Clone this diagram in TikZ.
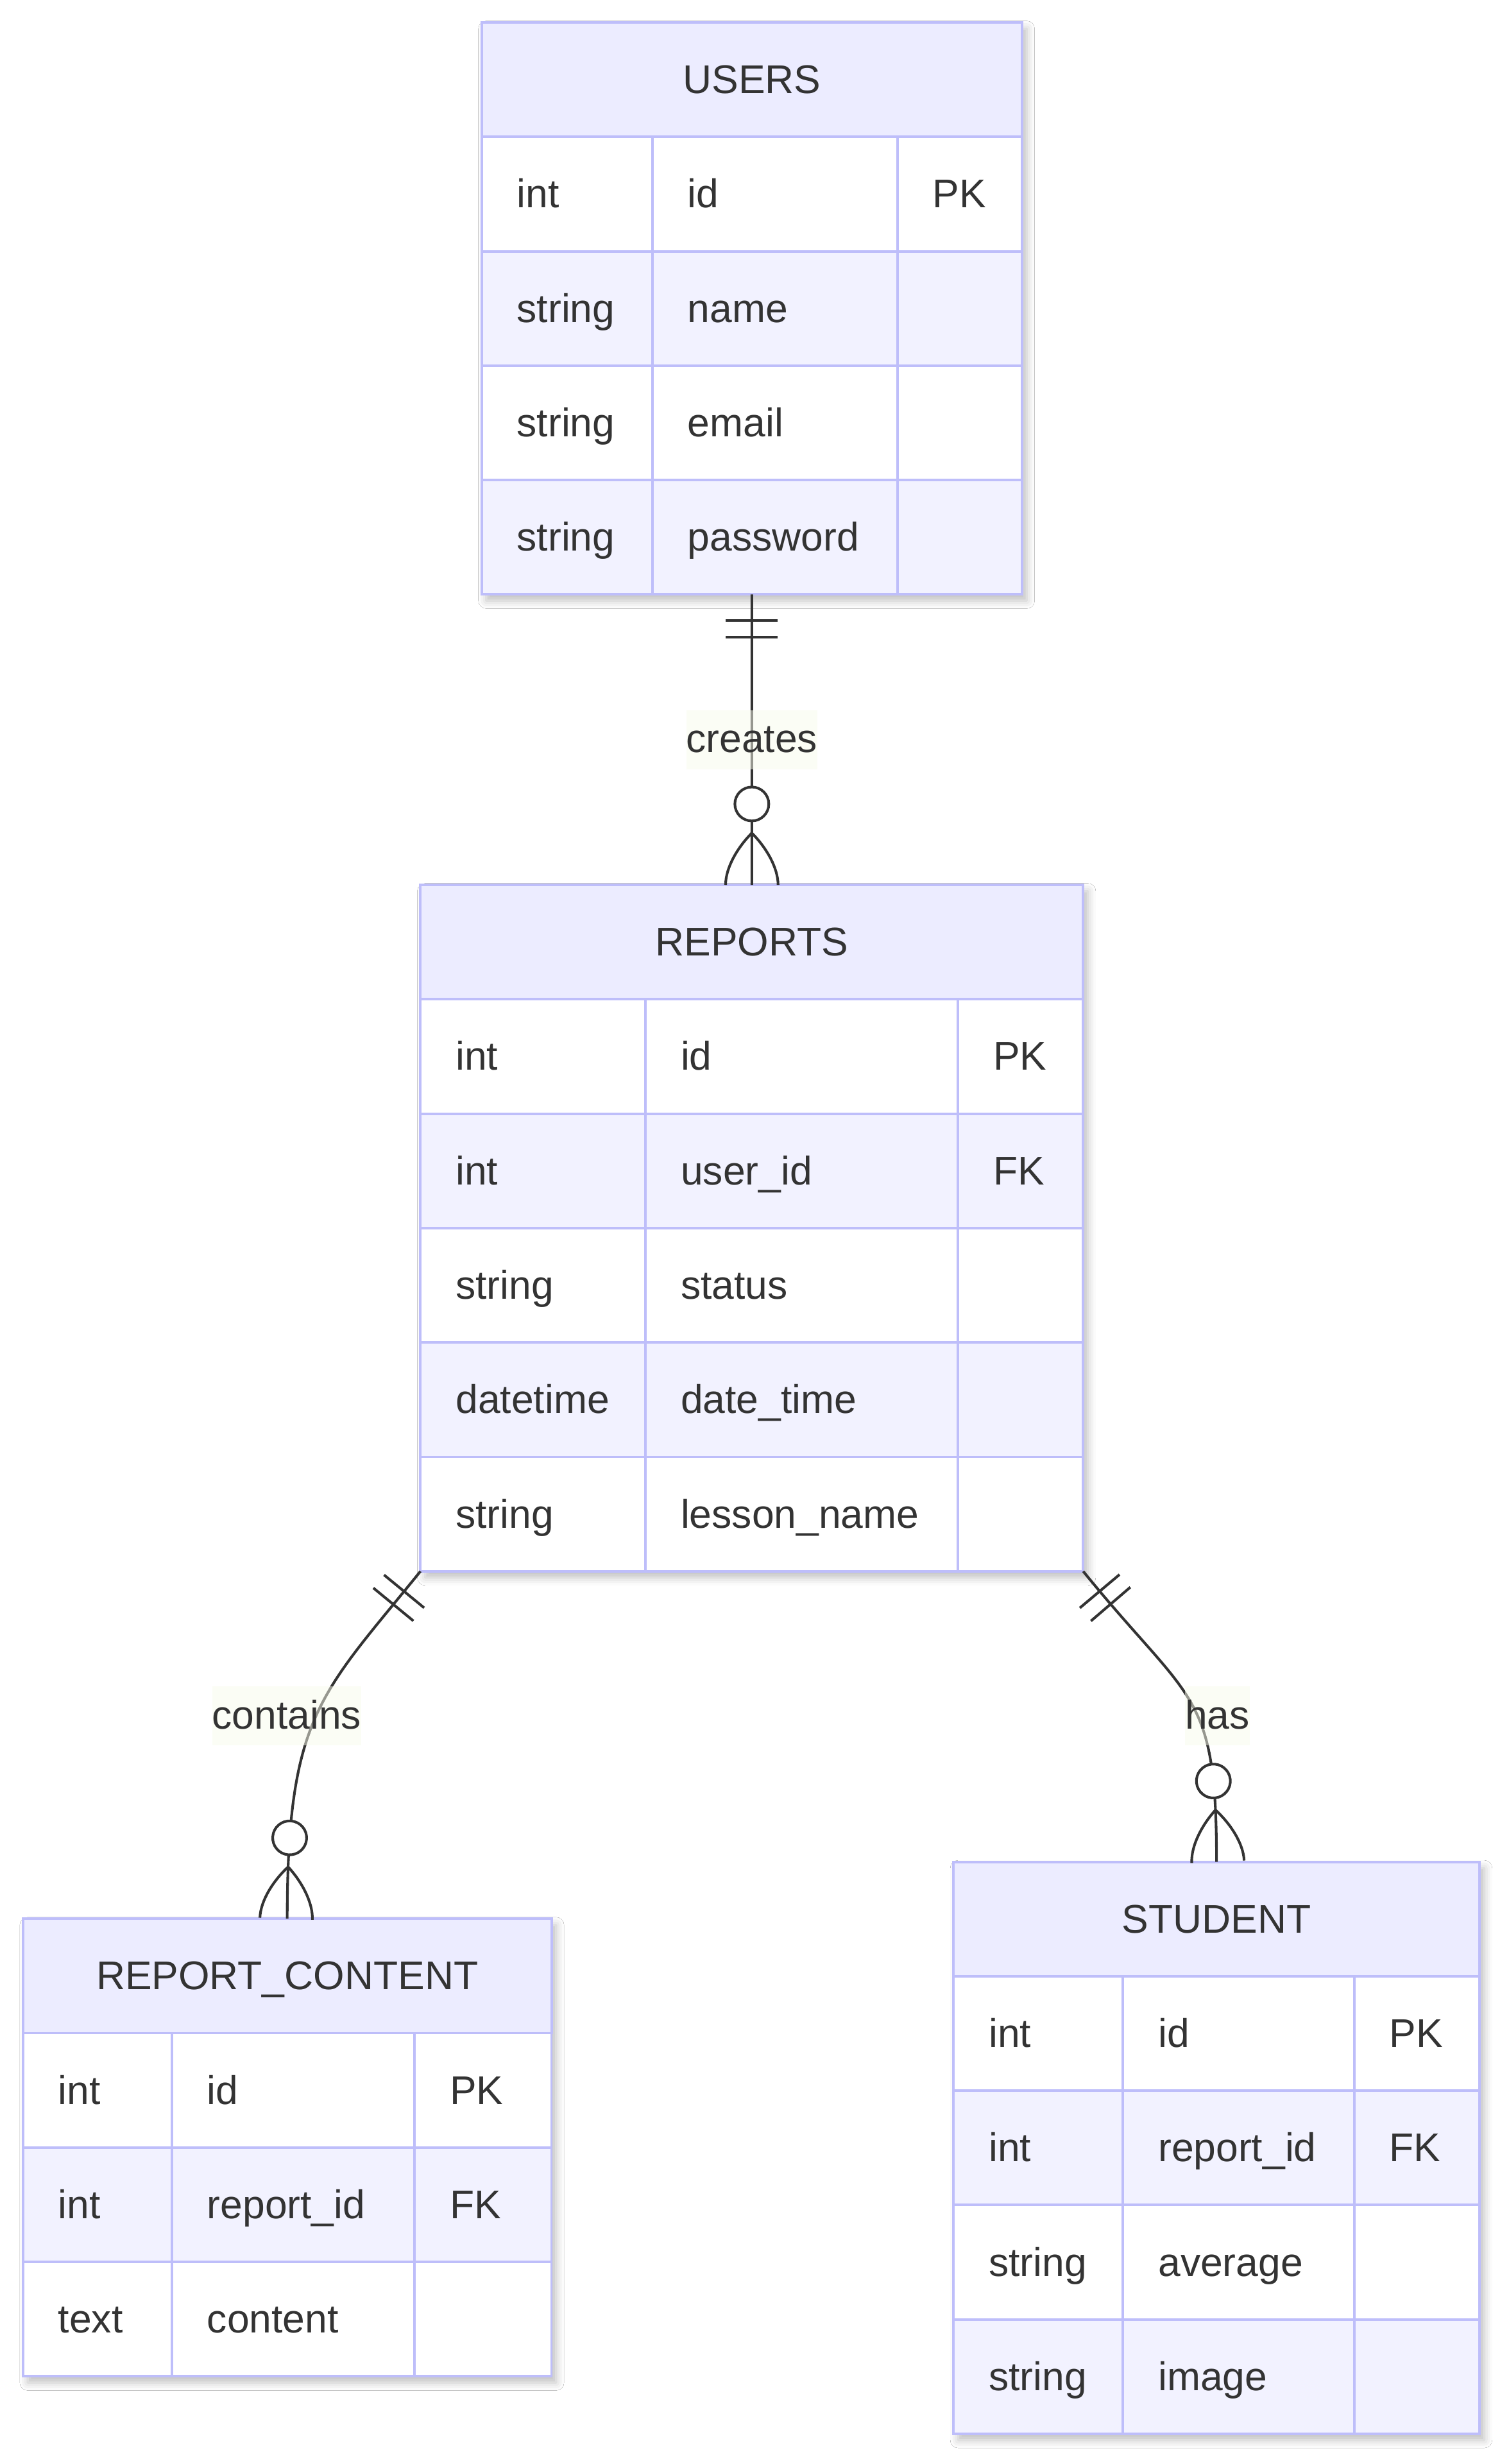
\documentclass[tikz,border=0pt]{standalone}
\usepackage{fontspec}
\setmainfont{Liberation Sans}
\usetikzlibrary{positioning, backgrounds, decorations.markings, shadows.blur}

\definecolor{erborder}{RGB}{190,190,250}
\definecolor{erheadfill}{RGB}{236,236,255}
\definecolor{erevenfill}{RGB}{242,242,255}
\definecolor{erink}{RGB}{51,51,51}
\definecolor{erlabelfill}{RGB}{249,252,236}

\tikzset{
  erfont/.style={font=\fontsize{14.5}{17.4}\selectfont, text=erink},
  erhead/.style={erfont, draw=erborder, fill=erheadfill, line width=0.9pt,
    minimum height=1.456cm, inner sep=0, outer sep=0, anchor=north west,
    text height=11.6pt, text depth=1.6pt},
  ercell/.style={erhead, align=left, inner xsep=0.45cm},
  erlink/.style={draw=erink, line width=0.95pt},
  erlabel/.style={erfont, fill=erlabelfill, fill opacity=0.5, text opacity=1,
    inner sep=0, minimum height=0.752cm, text height=10.9pt, text depth=1.7pt},
  one start/.style={postaction={decorate, decoration={markings,
    mark=at position 0.33cm with {\draw[erlink] (0,-16.5) -- (0,16.5);},
    mark=at position 0.545cm with {\draw[erlink] (0,-16.5) -- (0,16.5);}}}},
  many end/.style={postaction={decorate, decoration={markings,
    mark=at position -1.03cm with {\draw[erlink, fill=white] (0,0) circle[radius=0.216cm];},
    mark=at position -0.66cm with {\draw[erlink] (0,0) .. controls (9,9) and (22,16.7) .. (33,16.7)
                                                 (0,0) .. controls (9,-9) and (22,-16.7) .. (33,-16.7);}}}},
  table shadow/.style={blur shadow={shadow xshift=0.06cm, shadow yshift=-0.08cm,
    shadow blur radius=0.1cm, shadow opacity=25}}
}

% #1 name, #2 title, #3 x, #4 y (top), #5-#7 column widths, #8 rows type/name/key
\newcommand{\ertable}[8]{
  \node[erhead, minimum width={(#5+#6+#7)*0.02cm}] (#1) at (#3,#4) {#2};
  \pgfmathsetmacro\wa{(#5-45)*0.02}
  \pgfmathsetmacro\wb{(#6-45)*0.02}
  \pgfmathsetmacro\wc{(#7-45)*0.02}
  \foreach \ty/\nm/\ky [count=\i] in {#8} {
    \ifodd\i \def\rowfill{white}\else \def\rowfill{erevenfill}\fi
    \node[ercell, fill=\rowfill, text width=\wa cm] (#1-\i-1) at (#3,#4+72.8*\i) {\mbox{\ty}};
    \node[ercell, fill=\rowfill, text width=\wb cm, right=0pt of #1-\i-1] (#1-\i-2) {\mbox{\nm}};
    \node[ercell, fill=\rowfill, text width=\wc cm, right=0pt of #1-\i-2] (#1-\i-3) {\mbox{\ky}};
    \xdef\erlast{\i}
  }
  \begin{scope}[on background layer]
    \fill[white, table shadow] (#1.north west) rectangle (#1-\erlast-3.south east);
  \end{scope}
}

\begin{document}
\begin{tikzpicture}[x=0.02cm, y=-0.02cm]
  \begin{scope}[on background layer]
    \fill[white] (0,0) rectangle (960,1568);
  \end{scope}
  \useasboundingbox (0,0) rectangle (960,1568);

  % entities
  \ertable{users}{USERS}{306.5}{14.3}{108.7}{156}{79.3}
    {int/id/PK, string/name/{}, string/email/{}, string/password/{}}
  \ertable{reports}{REPORTS}{267.6}{563.1}{143.2}{198.9}{79.7}
    {int/id/PK, int/user\_id/FK, string/status/{}, datetime/date\_time/{}, string/lesson\_name/{}}
  \ertable{content}{REPORT\_CONTENT}{14.6}{1221}{94.8}{154.4}{87.2}
    {int/id/PK, int/report\_id/FK, text/content/{}}
  \ertable{student}{STUDENT}{606.8}{1184.8}{107.9}{147.2}{79.8}
    {int/id/PK, int/report\_id/FK, string/average/{}, string/image/{}}

  % relationships
  \draw[erlink, one start, many end] (users.center |- users-4-1.south) -- (reports.north)
    node[erlabel, midway] (creates) {creates};
  \draw[erlink, one start, many end] (reports-5-1.south west)
    .. controls +(-63,78) and +(0,-130) .. (content.north);
  \draw[erlink, one start, many end] (reports-5-3.south east)
    .. controls +(69,85) and +(0,-110) .. (student.north);
  \node[erlabel] (contains) at (182.5,1092) {contains};
  \node[erlabel] (has) at (774.8,1092) {has};
\end{tikzpicture}
\end{document}
